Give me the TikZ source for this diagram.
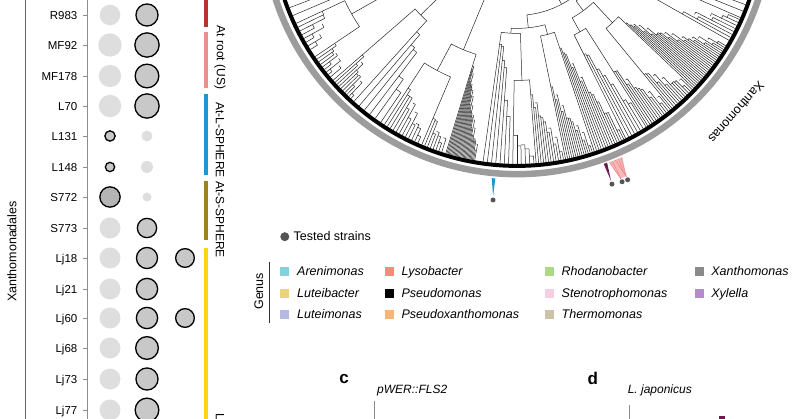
\documentclass[tikz,border=0pt]{standalone}
\usepackage{fontspec}
\setmainfont{Liberation Sans}
\usetikzlibrary{positioning}

\definecolor{dotlight}{HTML}{DEDEDE}
\definecolor{dothit}{HTML}{C8C8C8}
\definecolor{dotdark}{HTML}{B4B4B4}
\definecolor{rootred}{HTML}{B83330}
\definecolor{rootpink}{HTML}{E6908F}
\definecolor{lsphere}{HTML}{1E96D2}
\definecolor{ssphere}{HTML}{9C8320}
\definecolor{ljyellow}{HTML}{F7D616}
\definecolor{ringgray}{HTML}{9C9C9C}
\definecolor{testgray}{HTML}{555555}
\definecolor{markpurple}{HTML}{6D1A4F}
\definecolor{markpink}{HTML}{F08A8A}
\definecolor{arenimonas}{HTML}{7FD3DA}
\definecolor{luteibacter}{HTML}{E9D47C}
\definecolor{luteimonas}{HTML}{B6B9E2}
\definecolor{lysobacter}{HTML}{F28C7C}
\definecolor{pseudomonas}{HTML}{000000}
\definecolor{pseudoxantho}{HTML}{F7B474}
\definecolor{rhodano}{HTML}{ABD986}
\definecolor{steno}{HTML}{F6CEE2}
\definecolor{thermo}{HTML}{CDC2A6}
\definecolor{xantho}{HTML}{8A8A8A}
\definecolor{xylella}{HTML}{B48DC8}

\tikzset{
  branch/.style={line width=0.5pt, black!85},
  axisline/.style={line width=0.7pt, black!60},
  lightdot/.style={fill=dotlight},
  hitdot/.style={draw=black, line width=1.3pt, fill=dothit},
  darkdot/.style={draw=black, line width=1.3pt, fill=dotdark},
  strainlab/.style={anchor=base east, inner sep=0pt, font=\fontsize{11.5}{12}\selectfont},
  barlab/.style={rotate=-90, inner sep=0pt, font=\fontsize{12}{12}\selectfont},
  legendlab/.style={anchor=base west, inner sep=0pt, font=\fontsize{12.5}{13}\selectfont},
  genuslab/.style={anchor=base west, inner sep=0pt, font=\fontsize{12.5}{13}\selectfont\itshape},
  panellab/.style={inner sep=0pt, font=\fontsize{17}{17}\selectfont\bfseries},
}

% staircase clade: start angle, end angle, base radius, leaves, shape
\newcommand{\treecomb}[5]{%
  \foreach \k in {1,...,#4}{%
    \pgfmathsetmacro{\ta}{#1+(\k-1)*(#2-#1)/(#4-1)}%
    \pgfmathsetmacro{\tb}{#1+\k*(#2-#1)/(#4-1)}%
    \pgfmathsetmacro{\ra}{min(#3+(236-#3)*pow((\k-1)/(#4-1)+0.0001,#5)+min(\k-1,1)*6*sin(\k*157+#1*7),240)}%
    \pgfmathsetmacro{\rp}{min(#3+(236-#3)*pow(max(\k-2,0)/(#4-1)+0.0001,#5)+min(max(\k-2,0),1)*6*sin((\k-1)*157+#1*7),240)}%
    \draw[branch] (\ta:\rp) -- (\ta:243.5);
    \ifnum\k<#4\relax
      \draw[branch] (\ta:\ra) arc[start angle=\ta, end angle=\tb, radius=\ra];
    \fi
  }%
}
% join two children: angle a, radius a, angle b, radius b, node radius
\newcommand{\treejoin}[5]{%
  \draw[branch] (#1:#2) -- (#1:#5) arc[start angle=#1, end angle=#3, radius=#5] -- (#3:#4);
}

\begin{document}
\begin{tikzpicture}[x=1pt,y=1pt]
\useasboundingbox (0,0) rectangle (800,-419);
\clip (0,0) rectangle (800,-419);

% left panel
\draw[axisline] (25,0) -- (25,-419);
\draw[axisline, black!45] (87.5,0) -- (87.5,-419);
\node[rotate=90, inner sep=0pt, font=\fontsize{12.5}{13}\selectfont] (order) at (12,-251.5) {Xanthomonadales};
\foreach \n/\y in {R983/15, MF92/45, MF178/76, L70/106, L131/136, L148/167, S772/197,
                   S773/228, Lj18/258, Lj21/289, Lj60/318, Lj68/348, Lj73/379, Lj77/410}{
  \node[strainlab] (lab\n) at (77.5,-\y-4.1) {\n};
  \draw[axisline, black!45] (82.5,-\y) -- (87.5,-\y);
}

\fill[lightdot] (110,-15) circle (10.3);
\draw[hitdot] (147,-15) circle (11.05);
\fill[lightdot] (110,-45) circle (11.7);
\draw[hitdot] (147,-45) circle (12.15);
\fill[lightdot] (110,-76) circle (11.2);
\draw[hitdot] (147,-76) circle (11.85);
\fill[lightdot] (110,-106) circle (11.2);
\draw[hitdot] (147,-106) circle (12.15);
\draw[hitdot] (110,-136) circle (5.15);
\fill[lightdot] (147,-136) circle (5.5);
\draw[hitdot] (110,-167) circle (4.65);
\fill[lightdot] (147,-167) circle (6);
\draw[darkdot] (110,-197) circle (10.15);
\fill[lightdot] (147,-197) circle (4.5);
\fill[lightdot] (110,-228) circle (10.5);
\draw[hitdot] (147,-228) circle (9.65);
\fill[lightdot] (110,-258) circle (10.5);
\draw[hitdot] (147,-258) circle (10.55);
\draw[hitdot] (185,-258) circle (9.35);
\fill[lightdot] (110,-289) circle (10.5);
\draw[hitdot] (147,-289) circle (10.65);
\fill[lightdot] (110,-318) circle (10.5);
\draw[hitdot] (147,-318) circle (10.65);
\draw[hitdot] (185,-318) circle (9.35);
\fill[lightdot] (110,-348) circle (10.5);
\draw[hitdot] (147,-348) circle (11.35);
\fill[lightdot] (110,-379) circle (10.5);
\draw[hitdot] (147,-379) circle (11.05);
\fill[lightdot] (110,-410) circle (10.5);
\draw[hitdot] (147,-410) circle (11.85);

\fill[rootred] (203.5,0) rectangle (208,-27);
\fill[rootpink] (203.5,-32) rectangle (208,-88);
\fill[lsphere] (203.5,-94) rectangle (208,-175);
\fill[ssphere] (203.5,-181) rectangle (208,-240);
\fill[ljyellow] (203.5,-248) rectangle (208,-419);
\node[barlab] (rootlab) at (220,-57.5) {At root (US)};
\node[barlab] (lslab) at (220,-140) {At-L-SPHERE};
\node[barlab] (sslab) at (220,-219.5) {At-S-SPHERE};
\node[barlab, anchor=west] (ljlab) at (220,-413) {L};

% tree
\begin{scope}[shift={(517,79.6)}]
\treecomb{199}{203}{140}{3}{1}
\treecomb{205}{212}{215}{8}{0.7}
\treecomb{214}{220}{220}{9}{0.7}
\treecomb{221}{227}{205}{10}{0.8}
\treecomb{228}{236}{150}{6}{1.5}
\treecomb{237}{246}{200}{12}{0.8}
\treecomb{247}{252}{215}{8}{0.6}
\treecomb{253}{260}{155}{26}{1}
\treecomb{262}{268}{125}{7}{2}
\treecomb{269}{274}{215}{6}{0.7}
\treecomb{274.5}{281}{175}{12}{0.9}
\treecomb{281.5}{288}{170}{14}{0.8}
\treecomb{288.5}{296}{135}{14}{1.2}
\treecomb{296.5}{302}{150}{8}{1.3}
\treecomb{302.5}{309}{180}{12}{0.9}
\treecomb{309.5}{316}{200}{12}{0.8}
\treecomb{316.5}{329}{150}{26}{1}
\treecomb{330.5}{336}{190}{8}{0.8}
\treecomb{336.5}{343}{140}{5}{1.2}

\treejoin{205}{215}{214}{220}{190}
\treejoin{199}{140}{209.5}{190}{110}
\treejoin{221}{205}{228}{150}{135}
\treejoin{204.25}{110}{224.5}{135}{95}
\treejoin{237}{200}{247}{215}{170}
\treejoin{242}{170}{253}{155}{140}
\treejoin{214.4}{95}{247.5}{140}{85}
\treejoin{269}{215}{274.5}{175}{160}
\treejoin{262}{125}{271.75}{160}{113}
\treejoin{281.5}{170}{288.5}{135}{118}
\treejoin{266.9}{113}{285}{118}{108}
\treejoin{296.5}{150}{302.5}{180}{128}
\treejoin{309.5}{200}{316.5}{150}{140}
\treejoin{299.5}{128}{313}{140}{112}
\treejoin{330.5}{190}{336.5}{140}{130}
\treejoin{306.25}{112}{333.5}{130}{100}
\treejoin{276}{108}{319.9}{100}{95}
\treejoin{231}{85}{298}{95}{70}

\draw[black, line width=4pt] (0,0) circle (245.5);
\draw[ringgray, line width=6.5pt] (0,0) circle (253.75);
\node[rotate=228.8, inner sep=0pt, font=\fontsize{12.5}{13}\selectfont] (xanlab) at (318.8:291.7) {Xanthomonas};

% tested strains on the tree
\fill[lsphere] (264.4:259) -- (265.2:259) -- (265.05:277) -- cycle;
\fill[testgray] (265.1:280.6) circle (2.5);
\fill[markpurple] (289.6:258.5) -- (290.4:258.5) -- (289.85:277) -- cycle;
\fill[testgray] (289.8:280.3) circle (2.5);
\fill[markpink!60] (290.9:259) -- (294:259) -- (293.1:278) -- (291.9:278) -- cycle;
\foreach \a/\b in {290.9/291.9, 291.6/291.9, 292.3/293.1, 293/293.1, 293.7/293.1}{
  \draw[markpink, line width=0.6pt] (\a:259) -- (\b:278.5);
}
\fill[testgray] (291.9:281.7) circle (2.5);
\fill[testgray] (293.1:282) circle (2.5);
\end{scope}

% legend
\fill[testgray] (284.8,-236.7) circle (4.5);
\node[legendlab] (tested) at (293.5,-241) {Tested strains};
\node[rotate=90, inner sep=0pt, font=\fontsize{12.5}{13}\selectfont] (genus) at (258.7,-291.3) {Genus};
\draw[line width=1pt, black!80] (269.8,-261.8) -- (269.8,-322.7);
\foreach \bx/\by/\col/\gen in {284.8/271.2/arenimonas/Arenimonas, 284.8/293.1/luteibacter/Luteibacter,
    284.8/314.7/luteimonas/Luteimonas, 389.2/271.2/lysobacter/Lysobacter,
    389.2/293.1/pseudomonas/Pseudomonas, 389.2/314.7/pseudoxantho/Pseudoxanthomonas,
    549.3/271.2/rhodano/Rhodanobacter, 549.3/293.1/steno/Stenotrophomonas,
    549.3/314.7/thermo/Thermomonas, 699/271.2/xantho/Xanthomonas, 699/293.1/xylella/Xylella}{
  \fill[\col] (\bx-4.5,-\by-4.5) rectangle ++(9,9);
  \node[genuslab] (g\gen) at (\bx+12.2,-\by-4.3) {\gen};
}

% panels c and d
\node[panellab] (pc) at (344,-378.7) {c};
\node[genuslab, font=\fontsize{12}{12}\selectfont\itshape] (ctitle) at (377,-393) {pWER::FLS2};
\draw[line width=0.7pt, black!45] (374.6,-401.3) -- (374.6,-419);
\node[panellab] (pd) at (592.8,-378.7) {d};
\node[genuslab, font=\fontsize{12}{12}\selectfont\itshape] (dtitle) at (627.6,-393) {L. japonicus};
\draw[line width=0.7pt, black!45] (629.3,-404.8) -- (629.3,-419);
\fill[markpurple] (719,-415.5) rectangle (725,-419);
\end{tikzpicture}
\end{document}
